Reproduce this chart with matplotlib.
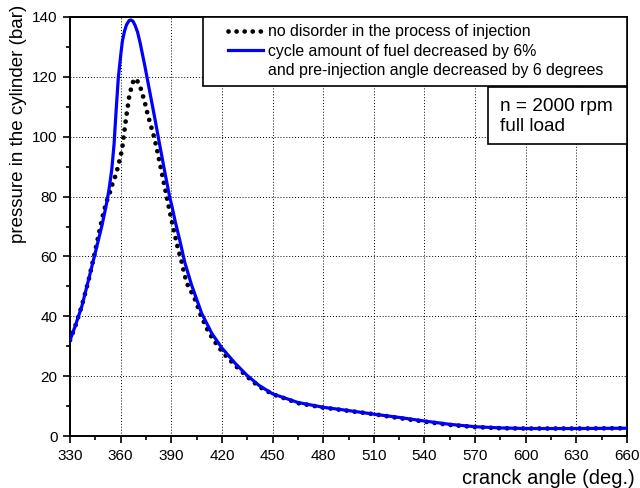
import numpy as np
import matplotlib
matplotlib.use("Agg")
import matplotlib.pyplot as plt
from matplotlib.lines import Line2D
from matplotlib.patches import Rectangle
from matplotlib.ticker import MultipleLocator

plt.rcParams['font.family'] = ['Liberation Sans', 'DejaVu Sans']

# crank angle (deg.) and cylinder pressure (bar)
angle_ref = [330, 333, 337, 341, 344.4, 348, 350, 351.7, 353.7, 355.3, 357.3,
             358.6, 360, 361, 362.2, 363.4, 364.4, 365.1, 366.5, 368, 369.5,
             371.3, 372.9, 374.4, 376, 378, 380, 382, 384, 386, 388, 390, 392,
             394, 396, 398, 400, 403, 405, 407, 411, 414, 418, 422, 428, 435,
             442, 450, 465, 480, 495, 510, 525, 540, 555, 570, 585, 600, 630,
             660]
p_ref = [32.0, 36.5, 43.5, 52.0, 60.5, 70.0, 75.0, 78.4, 81.5, 84.5, 87.5,
         90.4, 93.4, 96.5, 101.8, 107.0, 110.7, 113.5, 116.8, 119.4, 119.0,
         117.2, 114.3, 111.3, 107.5, 103.5, 99.5, 94.5, 89.0, 83.5, 78.0,
         72.5, 67.5, 62.5, 58.5, 53.5, 50.0, 47.0, 44.4, 41.0, 36.0, 33.0,
         29.7, 27.0, 23.5, 19.8, 16.5, 14.0, 11.0, 9.5, 8.4, 7.3, 6.0, 4.8,
         3.7, 3.0, 2.6, 2.5, 2.5, 2.6]

angle_mod = [330, 333, 337, 341, 345, 349, 351.7, 353.1, 354.7, 356.1, 357.3,
             358.6, 360, 361, 362.3, 363.5, 365, 366, 367.3, 368.5, 370,
             371.5, 374.4, 377.4, 380.4, 383.3, 386.3, 389, 390.5, 392.2,
             395.2, 398, 402, 408, 414, 420, 428, 435, 442, 450, 465, 480, 495,
             510, 525, 540, 555, 570, 585, 600, 630, 660]
p_mod = [32.0, 36.6, 43.3, 52.2, 61.3, 70.5, 77.8, 82.3, 88.8, 97.5, 108.5,
         119.5, 127.0, 131.8, 135.3, 137.4, 138.8, 139.0, 138.6, 137.3, 135.0,
         131.5, 123.5, 114.6, 105.7, 96.8, 87.8, 80.0, 76.5, 72.0, 65.0, 58.0,
         50.5, 41.0, 34.3, 29.4, 24.2, 20.2, 16.9, 14.1, 11.2, 9.6, 8.5, 7.3,
         6.2, 5.0, 3.9, 3.1, 2.7, 2.5, 2.5, 2.6]

labels = ["no disorder in the process of injection",
          "cycle amount of fuel decreased by 6%",
          "and pre-injection angle decreased by 6 degrees"]

fig = plt.figure(figsize=(6.4, 4.88), dpi=100)
ax = fig.add_axes([70/640, 1 - 436/488, 557/640, 419/488])

ax.plot(angle_ref, p_ref, color='black', lw=3.4, linestyle=(0, (0.01, 1.7)),
        dash_capstyle='round', zorder=3)
ax.plot(angle_mod, p_mod, color='#0000ff', lw=2.3, zorder=4)

ax.set_xlim(330, 660)
ax.set_ylim(0, 140)
ax.xaxis.set_major_locator(MultipleLocator(30))
ax.xaxis.set_minor_locator(MultipleLocator(15))
ax.yaxis.set_major_locator(MultipleLocator(20))
ax.yaxis.set_minor_locator(MultipleLocator(10))
ax.grid(True, which='major', color='black', linestyle=(0, (1, 2)), lw=0.7)
ax.tick_params(which='major', direction='out', length=5, width=1.2,
               labelsize=11, pad=4)
ax.tick_params(which='minor', direction='out', length=3, width=1.2)
for s in ax.spines.values():
    s.set_linewidth(1.4)

fig.text(635/640, 1 - 478/488, "cranck angle (deg.)", fontsize=14.5,
         ha='right', va='center')
fig.text(19/640, 1 - 5/488, "pressure in the cylinder (bar)", rotation=90,
         fontsize=13.5, ha='center', va='top')

# legend box
ax.add_patch(Rectangle((0.238, 0.835), 0.762, 0.165, transform=ax.transAxes,
                       facecolor='white', edgecolor='black', lw=1.2, zorder=5))
handles = [Line2D([], [], color='black', lw=3.4, linestyle=(0, (0.01, 1.7)),
                  dash_capstyle='round'),
           Line2D([], [], color='#0000ff', lw=2.3),
           Line2D([], [], color='none')]
leg = ax.legend(handles, labels, loc='upper left', frameon=False,
                bbox_to_anchor=((225 - 70)/557, 0.99), borderpad=0.2,
                borderaxespad=0, handlelength=2.2, handletextpad=0.3,
                labelspacing=0.28, fontsize=11.4)
leg.set_zorder(6)

# operating point box
ax.add_patch(Rectangle((0.750, 0.697), 0.25, 0.136, transform=ax.transAxes,
                       facecolor='white', edgecolor='black', lw=1.2, zorder=7))
ax.text(0.772, 0.7625, "n = 2000 rpm\nfull load", transform=ax.transAxes,
        fontsize=13.7, ha='left', va='center', zorder=8)

fig.savefig("out.png", dpi=100)
